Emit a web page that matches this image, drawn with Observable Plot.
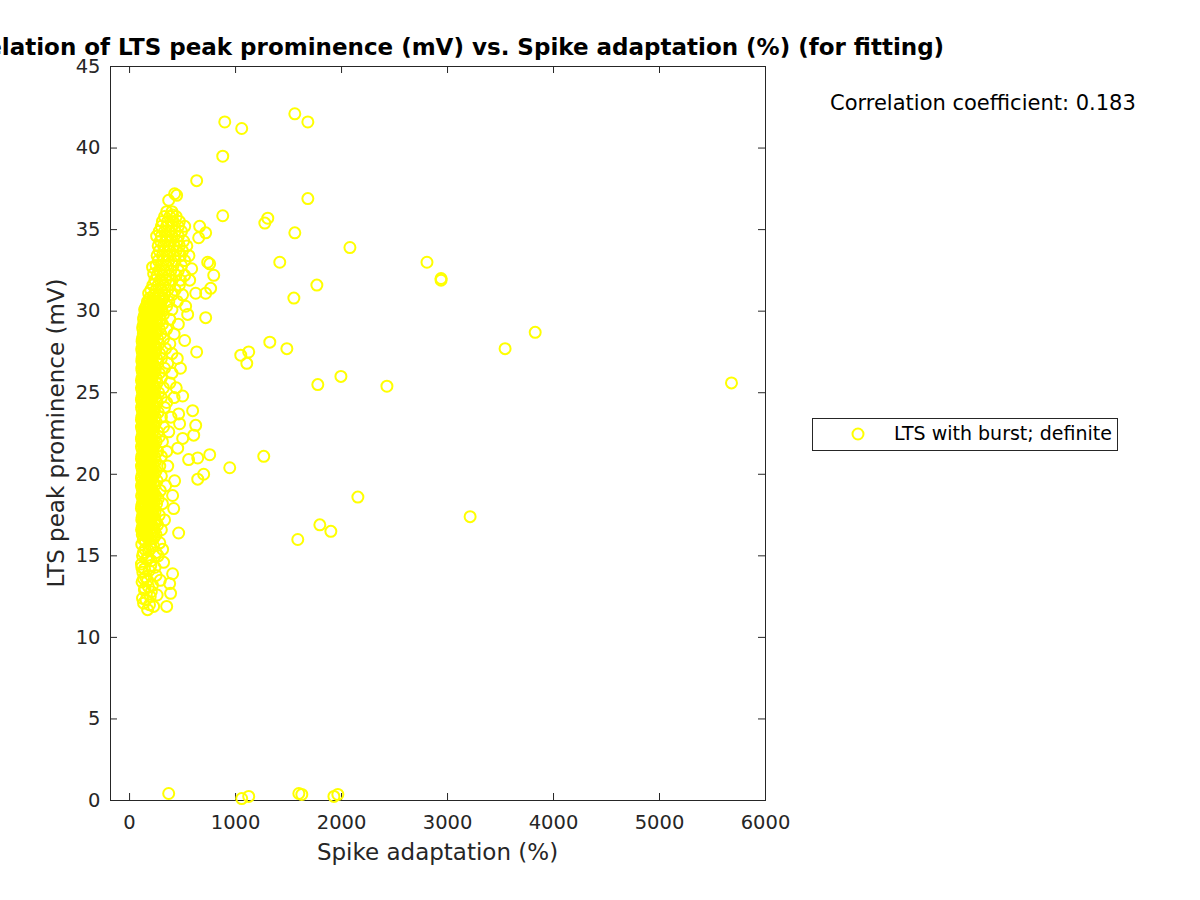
<!DOCTYPE html>
<html>
<head>
<meta charset="utf-8">
<script src="https://cdn.jsdelivr.net/npm/d3@7"></script>
<script src="https://cdn.jsdelivr.net/npm/@observablehq/plot@0.6"></script>
<style>
  html, body { margin: 0; padding: 0; background: #fff; overflow: hidden; }
  #wrap { position: relative; width: 1200px; height: 900px; font-family: "DejaVu Sans", sans-serif; }
  .abs { position: absolute; white-space: nowrap; }
  #title { left: 437.5px; top: 34px; transform: translateX(-50%); font-weight: bold; font-size: 23px; color: #000; }
  #corr { left: 830px; top: 91px; font-size: 21px; color: #000; }
  #xlabel { left: 437.5px; top: 839px; transform: translateX(-50%); font-size: 23px; color: #262626; }
  #ylabel { left: 56px; top: 433px; transform: translate(-50%, -50%) rotate(-90deg); font-size: 23px; color: #262626; }
  #legend { left: 812px; top: 418px; width: 304px; height: 31px; border: 1px solid #262626; background: #fff; }
  #legend svg { position: absolute; left: 36px; top: 6px; }
  #legend span { position: absolute; left: 81px; top: 3px; font-size: 19px; color: #000; }
</style>
</head>
<body>
<div id="wrap">
  <div id="chart"></div>
  <div id="title" class="abs">Correlation of LTS peak prominence (mV) vs. Spike adaptation (%) (for fitting)</div>
  <div id="corr" class="abs">Correlation coefficient: 0.183</div>
  <div id="xlabel" class="abs">Spike adaptation (%)</div>
  <div id="ylabel" class="abs">LTS peak prominence (mV)</div>
  <div id="legend" class="abs">
    <svg width="18" height="18"><circle cx="9" cy="9" r="5.5" fill="none" stroke="#ffff00" stroke-width="2"></circle></svg>
    <span>LTS with burst; definite</span>
  </div>
</div>
<script>
// ---- data: [spike adaptation (%), LTS peak prominence (mV)] ----
const xTicks = [0, 1000, 2000, 3000, 4000, 5000, 6000];
const yTicks = [0, 5, 10, 15, 20, 25, 30, 35, 40, 45];

const coreLow = [
  [170,11.7],[132,12.1],[227,11.9],[350,11.9],[155,12.3],[195,12.5],[387,12.7],[140,12.9],
  [260,12.6],[178,13.1],[378,13.3],[118,13.4],[215,13.2],[150,13.7],[290,13.5],[125,14.0],
  [406,13.9],[185,14.1],[240,14.3],[321,14.6],[112,14.5],[160,14.8],[205,14.7],[270,15.0],
  [130,15.2],[312,15.4],[180,15.3],[115,15.7],[225,15.6],[150,15.9],[285,15.8],[195,16.0]
];

const coreMid = [
  [120,16.3],[145,16.3],[170,16.3],[215,16.3],[250,16.3],[463,16.4],
  [113,16.6],[135,16.6],[160,16.6],[190,16.6],[235,16.6],[300,16.6],
  [128,16.9],[155,16.9],[180,16.9],[210,16.9],[265,16.9],
  [115,17.2],[140,17.2],[170,17.2],[200,17.2],[240,17.2],[330,17.2],
  [125,17.5],[150,17.5],[185,17.5],[220,17.5],[280,17.5],
  [112,17.9],[135,17.9],[165,17.9],[195,17.9],[230,17.9],[416,17.9],
  [120,18.2],[148,18.2],[175,18.2],[210,18.2],[255,18.2],[310,18.2],
  [130,18.5],[160,18.5],[190,18.5],[225,18.5],[270,18.5],
  [114,18.7],[140,18.7],[170,18.7],[200,18.7],[245,18.7],[406,18.7],
  [125,19.0],[150,19.0],[180,19.0],[215,19.0],[290,19.0],
  [112,19.3],[135,19.3],[165,19.3],[195,19.3],[235,19.3],[340,19.3],
  [120,19.6],[145,19.6],[175,19.6],[205,19.6],[260,19.6],[425,19.6],
  [115,19.9],[140,19.9],[165,19.9],[190,19.9],[225,19.9],[300,19.9],
  [125,20.2],[155,20.2],[185,20.2],[215,20.2],[250,20.2],
  [112,20.5],[135,20.5],[160,20.5],[195,20.5],[230,20.5],[285,20.5],[360,20.5],
  [120,20.8],[150,20.8],[180,20.8],[210,20.8],[245,20.8],
  [115,21.1],[140,21.1],[170,21.1],[200,21.1],[235,21.1],[300,21.1],
  [128,21.4],[155,21.4],[185,21.4],[220,21.4],[265,21.4],[350,21.4],
  [112,21.7],[138,21.7],[165,21.7],[195,21.7],[230,21.7],[454,21.6],
  [120,22.0],[148,22.0],[178,22.0],[210,22.0],[250,22.0],[310,22.0],
  [115,22.3],[140,22.3],[170,22.3],[200,22.3],[240,22.3],[280,22.3],
  [125,22.6],[155,22.6],[185,22.6],[220,22.6],[265,22.6],[370,22.6],
  [112,22.9],[135,22.9],[165,22.9],[195,22.9],[230,22.9],[320,22.9],
  [120,23.2],[148,23.2],[178,23.2],[210,23.2],[250,23.2],[472,23.1],
  [116,23.5],[140,23.5],[170,23.5],[205,23.5],[240,23.5],[300,23.5],[390,23.5],
  [128,23.8],[155,23.8],[188,23.8],[225,23.8],[270,23.8],[463,23.7],
  [113,24.1],[138,24.1],[165,24.1],[195,24.1],[235,24.1],[330,24.1]
];

const coreHigh = [
  [120,24.4],[150,24.4],[180,24.4],[215,24.4],[260,24.4],[350,24.4],
  [115,24.7],[140,24.7],[170,24.7],[205,24.7],[245,24.7],[300,24.7],[420,24.7],
  [125,25.0],[155,25.0],[190,25.0],[225,25.0],[275,25.0],
  [112,25.3],[135,25.3],[165,25.3],[200,25.3],[240,25.3],[320,25.3],[440,25.3],
  [120,25.6],[150,25.6],[180,25.6],[215,25.6],[260,25.6],[380,25.6],
  [118,25.9],[145,25.9],[175,25.9],[210,25.9],[250,25.9],[300,25.9],
  [125,26.2],[155,26.2],[190,26.2],[230,26.2],[280,26.2],[400,26.2],
  [115,26.5],[140,26.5],[170,26.5],[205,26.5],[245,26.5],[330,26.5],[480,26.5],
  [122,26.8],[150,26.8],[185,26.8],[220,26.8],[265,26.8],[360,26.8],
  [118,27.1],[145,27.1],[175,27.1],[210,27.1],[255,27.1],[300,27.1],[450,27.1],
  [128,27.4],[160,27.4],[195,27.4],[235,27.4],[285,27.4],[400,27.4],
  [115,27.7],[140,27.7],[170,27.7],[210,27.7],[250,27.7],[340,27.7],
  [125,28.0],[155,28.0],[190,28.0],[230,28.0],[275,28.0],[380,28.0],[520,28.2],
  [120,28.3],[150,28.3],[185,28.3],[220,28.3],[265,28.3],[320,28.3],
  [130,28.6],[165,28.6],[200,28.6],[245,28.6],[295,28.6],[420,28.6],
  [125,28.9],[158,28.9],[195,28.9],[235,28.9],[280,28.9],[350,28.9],
  [135,29.2],[170,29.2],[210,29.2],[255,29.2],[310,29.2],[460,29.2],
  [132,29.5],[165,29.5],[200,29.5],[245,29.5],[290,29.5],[380,29.5],
  [145,29.8],[180,29.8],[220,29.8],[265,29.8],[320,29.8],[548,29.8],
  [142,30.1],[175,30.1],[215,30.1],[260,30.1],[305,30.1],[400,30.1],
  [160,30.3],[195,30.3],[240,30.3],[290,30.3],[350,30.3],[529,30.3],
  [170,30.6],[210,30.6],[255,30.6],[300,30.6],[370,30.6],[450,30.6]
];

const coreFill = [
  [122,12.4],[188,12.0],[145,13.0],[205,12.8],[132,13.6],[170,13.5],[250,13.8],[115,14.3],
  [140,14.2],[200,14.4],[175,14.9],[122,15.0],[250,15.2],[145,15.4],[200,15.6],[130,16.0],
  [170,16.1],[230,16.1],
  [132,16.45],[158,16.45],[200,16.45],[228,16.45],
  [120,16.75],[148,16.75],[175,16.75],[222,16.75],
  [128,17.05],[160,17.05],[188,17.05],[250,17.05],
  [118,17.35],[135,17.35],[178,17.35],[210,17.35],
  [132,17.7],[160,17.7],[205,17.7],[240,17.7],
  [115,18.05],[140,18.05],[188,18.05],[225,18.05],
  [128,18.35],[165,18.35],[195,18.35],[232,18.35],
  [118,18.6],[150,18.6],[180,18.6],[215,18.6],
  [132,18.85],[160,18.85],[190,18.85],[228,18.85],
  [118,19.15],[140,19.15],[172,19.15],[205,19.15],
  [128,19.45],[158,19.45],[185,19.45],[222,19.45],
  [112,19.75],[152,19.75],[180,19.75],[210,19.75],
  [132,20.05],[170,20.05],[200,20.05],[238,20.05],
  [118,20.35],[145,20.35],[175,20.35],[210,20.35],
  [128,20.65],[165,20.65],[188,20.65],[220,20.65],
  [112,20.95],[135,20.95],[162,20.95],[195,20.95],
  [125,21.25],[150,21.25],[178,21.25],[215,21.25],
  [118,21.55],[145,21.55],[172,21.55],[205,21.55],
  [132,21.85],[160,21.85],[188,21.85],[225,21.85],
  [112,22.15],[135,22.15],[162,22.15],[195,22.15],
  [128,22.45],[158,22.45],[190,22.45],[215,22.45],
  [118,22.75],[142,22.75],[172,22.75],[205,22.75],
  [130,23.05],[160,23.05],[188,23.05],[225,23.05],
  [112,23.35],[132,23.35],[158,23.35],[190,23.35],
  [122,23.65],[145,23.65],[175,23.65],[215,23.65],
  [118,23.95],[140,23.95],[172,23.95],[205,23.95],
  [130,24.25],[160,24.25],[190,24.25],[222,24.25],
  [112,24.55],[135,24.55],[165,24.55],[195,24.55],
  [128,24.85],[158,24.85],[188,24.85],[230,24.85],
  [118,25.15],[145,25.15],[178,25.15],[212,25.15],
  [132,25.45],[160,25.45],[190,25.45],[225,25.45],
  [112,25.75],[135,25.75],[165,25.75],[195,25.75],
  [128,26.05],[160,26.05],[180,26.05],[215,26.05],
  [118,26.35],[148,26.35],[178,26.35],[210,26.35],
  [132,26.65],[160,26.65],[192,26.65],[232,26.65],
  [115,26.95],[138,26.95],[168,26.95],[200,26.95],
  [125,27.25],[152,27.25],[182,27.25],[220,27.25],
  [118,27.55],[145,27.55],[178,27.55],[212,27.55],
  [135,27.85],[165,27.85],[195,27.85],[235,27.85],
  [118,28.15],[140,28.15],[172,28.15],[205,28.15],
  [128,28.45],[158,28.45],[190,28.45],[228,28.45],
  [140,28.75],[175,28.75],[212,28.75],[250,28.75],
  [125,29.05],[150,29.05],[185,29.05],[225,29.05],
  [145,29.35],[180,29.35],[215,29.35],[260,29.35],
  [135,29.65],[160,29.65],[195,29.65],[235,29.65],
  [152,29.95],[190,29.95],[230,29.95],[275,29.95],
  [150,30.2],[185,30.2],[225,30.2],[270,30.2],
  [165,30.45],[200,30.45],[240,30.45],[285,30.45],
  [190,30.8],[235,30.8],[275,30.8],[320,30.8]
];

const coreTop = [
  [180,31.1],[230,31.0],[280,31.0],[330,31.0],[400,31.0],[500,31.0],
  [200,31.3],[250,31.3],[300,31.3],[360,31.3],[430,31.3],[624,31.1],
  [220,31.6],[270,31.6],[320,31.6],[380,31.6],[470,31.6],[567,31.9],
  [240,31.9],[290,31.9],[340,31.9],[400,31.9],[480,31.9],
  [227,32.3],[260,32.2],[310,32.2],[370,32.2],[440,32.2],[520,32.2],
  [217,32.7],[280,32.5],[330,32.5],[390,32.5],[460,32.5],[586,32.6],
  [250,32.8],[300,32.8],[350,32.8],[410,32.8],[490,32.8],
  [270,33.1],[320,33.1],[370,33.1],[430,33.1],[520,33.1],
  [260,33.4],[310,33.4],[360,33.4],[420,33.4],[480,33.4],[560,33.4],
  [280,33.7],[330,33.7],[380,33.7],[440,33.7],[500,33.7],
  [270,34.0],[320,34.0],[370,34.0],[420,34.0],[470,34.0],[540,34.0],
  [290,34.3],[340,34.3],[390,34.3],[450,34.3],[510,34.3],
  [255,34.6],[300,34.6],[350,34.6],[400,34.6],[460,34.6],[652,34.5],
  [280,34.9],[330,34.9],[380,34.9],[430,34.9],[490,34.9],
  [300,35.2],[350,35.2],[400,35.2],[460,35.2],[520,35.2],[661,35.2],
  [310,35.5],[360,35.5],[410,35.5],[470,35.5],
  [330,35.8],[380,35.8],[406,35.9],[440,35.8],
  [350,36.1],[400,36.1],
  [369,36.8],[425,37.2],[444,37.1],[633,38.0]
];

const outliers = [
  [1058,41.2],[898,41.6],[879,39.5],[1559,42.1],[1682,41.6],[879,35.85],[1304,35.7],[1276,35.4],
  [1682,36.9],[718,34.8],[1559,34.8],[2079,33.9],[1417,33.0],[737,33.0],[756,32.9],[2806,33.0],
  [2939,32.0],[2939,31.9],[1767,31.6],[765,31.4],[794,32.2],[718,31.1],[1550,30.8],[718,29.6],
  [3827,28.7],[3543,27.7],[1323,28.1],[1484,27.7],[1049,27.3],[1124,27.5],[1106,26.8],[633,27.5],
  [1994,26.0],[1776,25.5],[2428,25.4],[5679,25.6],[756,21.2],[1266,21.1],[945,20.4],[699,20.0],
  [643,19.7],[2154,18.6],[1795,16.9],[1899,16.5],[3213,17.4],[1587,16.0],
  [501,24.8],[595,23.9],[624,23.0],[605,22.4],[501,22.2],[557,20.9],[643,21.0]
];

const nearZero = [
  [369,0.43],[1058,0.12],[1124,0.25],[1597,0.43],[1625,0.37],[1928,0.25],[1965,0.37]
];

const points = [...coreLow, ...coreMid, ...coreHigh, ...coreFill, ...coreTop, ...outliers, ...nearZero]
  .map(([adaptation, prominence]) => ({adaptation, prominence}));

const ink = "#262626";
const chart = Plot.plot({
  width: 1200,
  height: 900,
  marginLeft: 110,
  marginRight: 435,
  marginTop: 66,
  marginBottom: 100,
  style: {fontFamily: "DejaVu Sans", fontSize: "19.5px", color: ink, background: "white"},
  x: {domain: [-180, 6000], ticks: xTicks, tickFormat: d3.format("d"), tickSize: 0, tickPadding: 15, label: null},
  y: {domain: [0, 45], ticks: yTicks, tickFormat: d3.format("d"), tickSize: 0, tickPadding: 10, label: null},
  marks: [
    Plot.frame({stroke: ink}),
    Plot.tickX(xTicks, {x: d => d, insetTop: 727, stroke: ink}),
    Plot.tickX(xTicks, {x: d => d, insetBottom: 727, stroke: ink}),
    Plot.tickY(yTicks, {y: d => d, insetRight: 648, stroke: ink}),
    Plot.tickY(yTicks, {y: d => d, insetLeft: 648, stroke: ink}),
    Plot.dot(points, {x: "adaptation", y: "prominence", r: 5.5, stroke: "#ffff00", strokeWidth: 2, fill: "none"})
  ]
});
document.getElementById("chart").appendChild(chart);
</script>
</body>
</html>
